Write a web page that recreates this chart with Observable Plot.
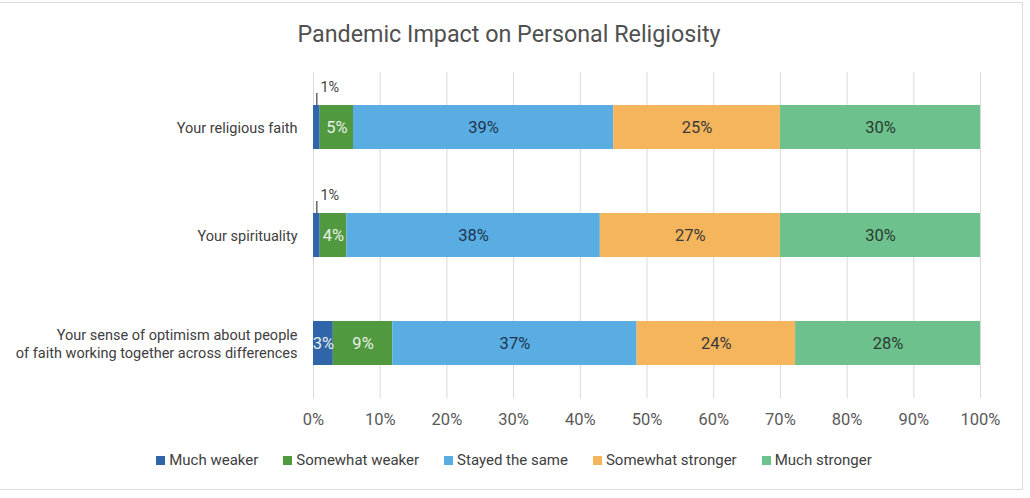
<!DOCTYPE html>
<html><head><meta charset="utf-8">
<script src="https://cdn.jsdelivr.net/npm/d3@7"></script>
<script src="https://cdn.jsdelivr.net/npm/@observablehq/plot@0.6"></script>
<style>
body{margin:0;background:#fff;font-family:Roboto,"Noto Sans",sans-serif;}
#frame{position:absolute;left:-1px;top:2px;width:1022px;height:486px;border:1px solid #dcdcdc;}
#title{position:absolute;top:20px;left:0;width:1018px;text-align:center;font-size:23.3px;color:#505050;}
#chart{position:absolute;top:55px;left:0;}
#legend{position:absolute;top:451px;left:0;width:1028px;display:flex;justify-content:center;gap:25px;font-size:15px;color:#404040;}
#legend .item{display:flex;align-items:center;gap:4px;}
#legend .sw{width:9px;height:9px;display:inline-block;}
</style>
</head><body>
<div id="frame"></div>
<div id="title">Pandemic Impact on Personal Religiosity</div>
<div id="chart"></div>
<div id="legend"></div>
<script>
const categories = [
  "Your religious faith",
  "Your spirituality",
  "Your sense of optimism about people\nof faith working together across differences"
];
const series = ["Much weaker", "Somewhat weaker", "Stayed the same", "Somewhat stronger", "Much stronger"];
const colors = ["#3065a9", "#50993f", "#5aade2", "#f5b55c", "#6cc18c"];
const muchWeaker = [1, 1, 3];
const somewhatWeaker = [5, 4, 9];
const stayedSame = [39, 38, 37];
const somewhatStronger = [25, 27, 24];
const muchStronger = [30, 30, 28];
const xTicks = [0, 0.1, 0.2, 0.3, 0.4, 0.5, 0.6, 0.7, 0.8, 0.9, 1];

const valuesBySeries = [muchWeaker, somewhatWeaker, stayedSame, somewhatStronger, muchStronger];
const rows = [];
categories.forEach((c, i) => {
  series.forEach((s, j) => rows.push({category: c, series: s, value: valuesBySeries[j][i]}));
});
const lightText = ["Much weaker", "Somewhat weaker"];
const textColor = {"Stayed the same": "#1d3550", "Somewhat stronger": "#3a3a3a", "Much stronger": "#2b3a33"};
const stackOpts = (extra) => Plot.stackX({offset: "normalize", order: series, x: "value", y: "category", z: "series", ...extra});

const marks = [
  Plot.gridX(xTicks, {stroke: "#d9d9d9", strokeOpacity: 1}),
  Plot.barX(rows, stackOpts({fill: "series"})),
  Plot.text(rows, stackOpts({text: d => (d.value >= 2 && lightText.includes(d.series)) ? d.value + "%" : null, fill: "#e8efe6", fontSize: 16.5})),
];
for (const s of Object.keys(textColor)) {
  marks.push(Plot.text(rows, stackOpts({text: d => d.series === s ? d.value + "%" : null, fill: textColor[s], fontSize: 16.5})));
}
marks.push(
  Plot.text(rows, stackOpts({text: d => (d.value < 2) ? d.value + "%" : null, fill: "#404040", fontSize: 14.5, dx: 13, dy: -40})),
  Plot.tickX(rows, Plot.filter(d => d.value < 2, stackOpts({stroke: "#404040", strokeWidth: 1.2, insetTop: -12, insetBottom: 44}))),
  Plot.axisX({ticks: xTicks, tickFormat: d3.format(".0%"), tickSize: 0, tickPadding: 14, fill: "#595959", fontSize: 16.5, label: null}),
  Plot.axisY({tickSize: 0, tickPadding: 16, fill: "#404040", fontSize: 14.5, lineHeight: 1.25, label: null})
);

const chart = Plot.plot({
  width: 1030, height: 380,
  marginLeft: 313, marginRight: 50, marginTop: 17, marginBottom: 36.5,
  x: {domain: [0, 1]},
  y: {domain: categories, paddingInner: 0.595, paddingOuter: 0.2975},
  color: {domain: series, range: colors},
  style: {fontFamily: "Roboto, 'Noto Sans', sans-serif", fontSize: "14px", background: "transparent"},
  marks
});
document.getElementById("chart").appendChild(chart);

const legend = document.getElementById("legend");
series.forEach((s, i) => {
  const it = document.createElement("div");
  it.className = "item";
  it.innerHTML = `<span class="sw" style="background:${colors[i]}"></span><span>${s}</span>`;
  legend.appendChild(it);
});
</script>
</body></html>
